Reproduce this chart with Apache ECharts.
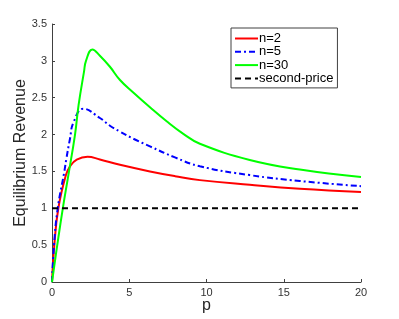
<!DOCTYPE html>
<html>
<head>
<meta charset="utf-8">
<script src="https://cdn.jsdelivr.net/npm/echarts@6/dist/echarts.min.js"></script>
<style>
html,body{margin:0;padding:0;background:#fff;}
#c{width:399px;height:319px;}
</style>
</head>
<body>
<div id="c"></div>
<script>
// Data
const seriesNames = ['n=2', 'n=5', 'n=30', 'second-price'];
const xTicks = [0, 5, 10, 15, 20];
const yTicks = [0, 0.5, 1, 1.5, 2, 2.5, 3, 3.5];

const n2 = [[0,0],[0.15,0.5],[0.41,1.0],[0.9,1.45],[1.17,1.57],[1.6,1.66],[2.3,1.70],[3.1,1.662],[4.4,1.59],[6.34,1.50],[7.96,1.436],[9.57,1.382],[12.8,1.318],[16.04,1.264],[20,1.22]];
const n5 = [[0,0],[0.13,0.5],[0.37,1.0],[0.8,1.5],[0.92,1.66],[1.17,1.95],[1.38,2.16],[2.03,2.35],[3.1,2.225],[3.75,2.12],[4.4,2.04],[5.3,1.94],[6.34,1.84],[7.96,1.69],[9.57,1.57],[12.8,1.45],[16.04,1.37],[20,1.30]];
const n30 = [[0,0],[0.34,0.5],[0.7,1.0],[1.06,1.45],[1.49,2.0],[1.72,2.4],[2.07,2.85],[2.2,3.0],[2.61,3.155],[3.1,3.07],[3.75,2.92],[4.4,2.74],[5.26,2.57],[6.34,2.37],[7.42,2.18],[8.5,2.01],[9.57,1.875],[12.8,1.655],[16.04,1.525],[20,1.423]];
const secondPrice = [[0,1],[20,1]];

const font = 'Liberation Sans, Arial, Helvetica, sans-serif';
const axisColor = '#404040';

const chart = echarts.init(document.getElementById('c'), null, {renderer: 'canvas'});

function lineSeries(name, data, color, type, smooth) {
  return {
    name: name,
    type: 'line',
    data: data,
    showSymbol: false,
    symbol: 'none',
    smooth: smooth,
    animation: false,
    lineStyle: {color: color, width: 2, type: type},
    itemStyle: {color: color}
  };
}

chart.setOption({
  animation: false,
  backgroundColor: '#fff',
  grid: {left: 52, right: 38, top: 24, bottom: 36, containLabel: false},
  legend: {
    orient: 'vertical',
    left: 231,
    top: 28,
    data: seriesNames,
    itemWidth: 23,
    itemHeight: 12,
    itemGap: 0.3,
    padding: [4, 4, 3, 3],
    borderColor: '#404040',
    borderWidth: 1,
    backgroundColor: '#fff',
    itemStyle: {opacity: 0},
    textStyle: {fontFamily: font, fontSize: 13, color: '#000', lineHeight: 12, padding: [0, 0, 0, -4]}
  },
  xAxis: {
    type: 'value',
    min: xTicks[0],
    max: xTicks[xTicks.length - 1],
    interval: xTicks[1] - xTicks[0],
    name: 'p',
    nameLocation: 'middle',
    nameGap: 16,
    nameMoveOverlap: false,
    nameTextStyle: {fontFamily: font, fontSize: 16, color: '#262626'},
    axisLine: {show: true, lineStyle: {color: axisColor, width: 1}},
    axisTick: {show: true, inside: true, length: 3, lineStyle: {color: axisColor}},
    axisLabel: {fontFamily: font, fontSize: 11, color: '#333', margin: 5},
    splitLine: {show: false}
  },
  yAxis: {
    type: 'value',
    min: yTicks[0],
    max: yTicks[yTicks.length - 1],
    interval: yTicks[1] - yTicks[0],
    name: 'Equilibrium Revenue',
    nameLocation: 'middle',
    nameGap: 23,
    nameMoveOverlap: false,
    nameTextStyle: {fontFamily: font, fontSize: 16, color: '#262626'},
    axisLine: {show: true, lineStyle: {color: axisColor, width: 1}},
    axisTick: {show: true, inside: true, length: 3, lineStyle: {color: axisColor}},
    axisLabel: {fontFamily: font, fontSize: 11, color: '#333', margin: 5},
    splitLine: {show: false}
  },
  series: [
    lineSeries(seriesNames[0], n2, '#ff0000', 'solid', 0.45),
    lineSeries(seriesNames[1], n5, '#0000ff', [6, 3, 2, 3], 0.45),
    lineSeries(seriesNames[2], n30, '#00ff00', 'solid', 0.45),
    lineSeries(seriesNames[3], secondPrice, '#000000', [6, 4], false)
  ]
});
</script>
</body>
</html>
